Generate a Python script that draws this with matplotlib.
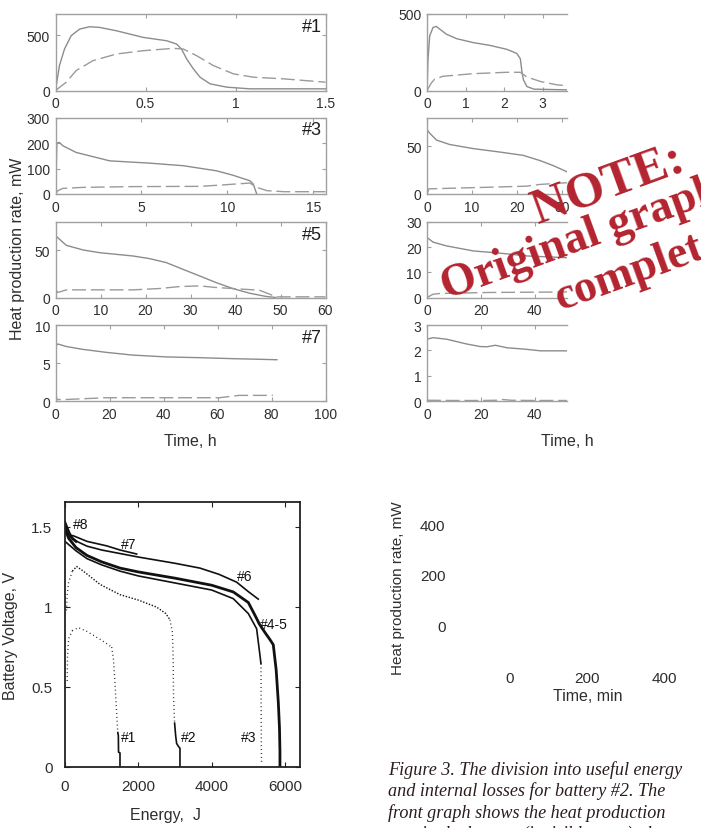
import matplotlib
matplotlib.use("Agg")
import matplotlib.pyplot as plt

# ---------------- data: heat production panels (left column) ----------------
p1_solid_t = [0, 0.022, 0.05, 0.087, 0.134, 0.19, 0.245, 0.338, 0.487, 0.617, 0.673, 0.70, 0.729, 0.766, 0.803, 0.859, 0.952, 1.08, 1.5]
p1_solid_q = [0, 225, 374, 494, 554, 575, 569, 539, 479, 449, 419, 374, 284, 195, 120, 60, 30, 15, 15]
p1_dash_t = [0, 0.06, 0.115, 0.208, 0.338, 0.487, 0.654, 0.71, 0.784, 0.877, 0.989, 1.1, 1.268, 1.5]
p1_dash_q = [0, 75, 180, 269, 329, 359, 380, 374, 314, 225, 150, 120, 105, 75]

p3_solid_t = [0, 0.04, 0.08, 0.23, 0.43, 1.2, 2.56, 3.15, 5.48, 7.42, 9.36, 10.3, 11.3, 11.5, 11.7]
p3_solid_q = [0, 85, 200, 202, 189, 163, 140, 130, 121, 111, 91, 74, 52, 39, 0]
p3_dash_t = [0, 0.14, 0.43, 1.6, 4.5, 8.4, 9.6, 11.3, 11.7, 12.3, 13.3, 15.7]
p3_dash_q = [0, 13, 22, 26, 29, 30, 35, 43, 26, 13, 9, 9]

p5_solid_t = [0.15, 0.5, 2.4, 6.1, 9.8, 17.2, 20.9, 24.6, 28.3, 32, 35.7, 39.4, 43.1, 46.8, 49]
p5_solid_q = [65, 63.4, 55.3, 50.4, 47.5, 44, 41.2, 37, 29.9, 22.9, 15.8, 9.5, 4.6, 1.1, 0]
p5_dash_t = [0, 0.5, 2.4, 17.2, 23.1, 27.6, 32, 35.7, 39.4, 45.3, 47.6, 49, 60]
p5_dash_q = [8.8, 5.3, 8.1, 8.1, 9.5, 11.6, 12.3, 10.6, 9.5, 7.7, 3.5, 0.7, 0.7]

p7_solid_t = [0, 0.86, 4, 10, 18.8, 28.6, 41, 53.3, 65.7, 74.3, 82]
p7_solid_q = [7.17, 7.5, 7.17, 6.8, 6.4, 6.04, 5.8, 5.7, 5.57, 5.5, 5.43]
p7_dash_t = [0, 0.5, 4, 18.8, 41, 60.7, 68, 80.5]
p7_dash_q = [1.5, 0.2, 0.2, 0.43, 0.43, 0.43, 0.74, 0.74]

# ---------------- data: heat production panels (right column) ----------------
r1_solid_t = [0, 0.026, 0.07, 0.157, 0.243, 0.33, 0.504, 0.765, 1.2, 1.63, 2.07, 2.33, 2.42, 2.46, 2.5, 2.59, 2.77, 3.63]
r1_solid_q = [0, 203, 357, 412, 419, 401, 368, 339, 313, 295, 269, 242, 207, 126, 70, 26, 9, 4]
r1_dash_t = [0, 0.11, 0.2, 0.417, 1.2, 2.07, 2.42, 2.59, 2.94, 3.37, 3.63]
r1_dash_q = [0, 48, 75, 93, 110, 119, 119, 88, 59, 37, 31]

r2_solid_t = [0.07, 0.6, 2.1, 5, 10.2, 16.1, 21.3, 25, 28, 31]
r2_solid_q = [67, 63.6, 56.4, 51.8, 47.5, 43.9, 40.4, 35, 29.6, 23.2]
r2_dash_t = [0, 0.44, 2.8, 13.9, 22, 25, 31]
r2_dash_q = [0, 5.4, 5.7, 7.1, 8.2, 10, 11.8]

r3_solid_t = [0.1, 2.25, 7.25, 17.25, 27.25, 37.25, 52]
r3_solid_q = [23.8, 22, 20.5, 18.5, 17.6, 16.5, 15.8]
r3_dash_t = [0, 2.25, 4.75, 23.5, 52]
r3_dash_q = [0, 1.3, 1.6, 2.0, 2.2]

r4_solid_t = [0, 2.25, 7.25, 14.75, 19.75, 22.25, 25.4, 29.75, 36, 42.25, 48.5, 52]
r4_solid_q = [2.44, 2.5, 2.44, 2.25, 2.15, 2.14, 2.2, 2.1, 2.05, 1.98, 1.98, 1.98]
r4_dash_t = [0, 10, 20, 26, 28, 31, 40, 52]
r4_dash_q = [0.03, 0.02, 0.02, 0.03, 0.06, 0.03, 0.02, 0.02]

# ---------------- data: battery voltage vs energy ----------------
b1_dot1_e = [60, 70, 100, 200]
b1_dot1_v = [0.538, 0.705, 0.803, 0.852]
b1_solid_e = [200, 364, 600, 955, 1150, 1273]
b1_solid_v = [0.852, 0.871, 0.847, 0.798, 0.769, 0.749]
b1_dot2_e = [1273, 1320, 1360, 1400, 1440]
b1_dot2_v = [0.749, 0.676, 0.538, 0.372, 0.215]
b1_end_e = [1440, 1455, 1460, 1500, 1500]
b1_end_v = [0.215, 0.196, 0.093, 0.088, 0.0]

b2_dot1_e = [40, 60, 100, 200]
b2_dot1_v = [0.979, 1.077, 1.155, 1.224]
b2_solid_e = [200, 318, 500, 955, 1500, 2000, 2500, 2750, 2863]
b2_solid_v = [1.224, 1.253, 1.224, 1.141, 1.077, 1.043, 0.999, 0.959, 0.920]
b2_dot2_e = [2863, 2930, 2950, 2960, 2990]
b2_dot2_v = [0.920, 0.842, 0.685, 0.441, 0.274]
b2_end_e = [2990, 3018, 3045, 3100, 3136, 3136]
b2_end_v = [0.274, 0.196, 0.147, 0.127, 0.117, 0.0]

b3_solid_e = [0, 100, 300, 600, 1000, 1500, 2000, 3000, 4000, 4590, 5000, 5227, 5318, 5345]
b3_solid_v = [1.410, 1.390, 1.351, 1.302, 1.263, 1.224, 1.194, 1.150, 1.106, 1.052, 0.959, 0.864, 0.698, 0.646]
b3_dot_e = [5345, 5350, 5355, 5360]
b3_dot_v = [0.646, 0.392, 0.147, 0.029]

b45_e = [0, 100, 300, 600, 1000, 1500, 2000, 3000, 4000, 4590, 5000, 5200, 5300, 5450, 5600, 5681, 5760, 5818, 5850, 5863, 5863]
b45_v = [1.488, 1.429, 1.371, 1.322, 1.282, 1.243, 1.219, 1.180, 1.136, 1.094, 1.028, 0.940, 0.894, 0.842, 0.793, 0.764, 0.607, 0.406, 0.245, 0.098, 0.0]

b6_e = [0, 227, 600, 1000, 2000, 3000, 3680, 4200, 4682, 5000, 5272]
b6_v = [1.469, 1.420, 1.380, 1.356, 1.312, 1.273, 1.243, 1.204, 1.155, 1.096, 1.049]

b7_e = [0, 100, 227, 600, 1136, 1500, 1955]
b7_v = [1.469, 1.449, 1.445, 1.410, 1.382, 1.356, 1.331]

b8_e = [0, 50, 120, 200, 300]
b8_v = [1.527, 1.498, 1.459, 1.429, 1.410]

volt_labels = ["#8", "#7", "#6", "#4-5", "#1", "#2", "#3"]
volt_label_e = [436, 1727, 4909, 5700, 1727, 3363, 5000]
volt_label_v = [1.517, 1.393, 1.193, 0.894, 0.186, 0.186, 0.186]

# ---------------- figure ----------------
W, H = 701, 829
plt.rcParams["font.family"] = ["Liberation Sans", "DejaVu Sans"]
fig = plt.figure(figsize=(W / 100, H / 100), dpi=100)


def ax_px(l, t, r, b):
    return fig.add_axes([l / W, 1 - b / H, (r - l) / W, (b - t) / H])


GREY = "#8c8c8c"
SPINE = "#a0a0a0"
TXT = "#2e2e2e"


def heat_panel(ax, st, sq, dt, dq, xlim, ylim, xt, yt, label=None, right=True):
    ax.plot(st, sq, color=GREY, lw=1.0)
    ax.plot(dt, dq, color="#9a9a9a", lw=1.0, dashes=(10, 3.5))
    ax.set_xlim(*xlim)
    ax.set_ylim(*ylim)
    ax.set_xticks(xt)
    ax.set_yticks(yt)
    ax.set_xticklabels([f"{v:g}" for v in xt])
    ax.set_yticklabels([f"{v:g}" for v in yt])
    for s in ax.spines.values():
        s.set_color(SPINE)
        s.set_linewidth(1.0)
    if not right:
        ax.spines["right"].set_visible(False)
    ax.tick_params(direction="in", top=True, right=right, length=3, color=SPINE,
                   labelsize=10, labelcolor=TXT, pad=4)
    if label:
        ax.text(0.985, 0.95, label, transform=ax.transAxes, ha="right", va="top",
                fontsize=13, color="#1e1e1e")


rows = [(15, 91.5), (118.5, 195), (223, 298.5), (326, 402)]
axL = [ax_px(55.5, t, 325.5, b) for t, b in rows]
heat_panel(axL[0], p1_solid_t, p1_solid_q, p1_dash_t, p1_dash_q, (0, 1.5), (0, 690),
           [0, 0.5, 1, 1.5], [0, 500], "#1")
heat_panel(axL[1], p3_solid_t, p3_solid_q, p3_dash_t, p3_dash_q, (0, 15.7), (0, 300),
           [0, 5, 10, 15], [0, 100, 200, 300], "#3")
heat_panel(axL[2], p5_solid_t, p5_solid_q, p5_dash_t, p5_dash_q, (0, 60), (0, 80),
           [0, 10, 20, 30, 40, 50, 60], [0, 50], "#5")
heat_panel(axL[3], p7_solid_t, p7_solid_q, p7_dash_t, p7_dash_q, (0, 100), (0, 10),
           [0, 20, 40, 60, 80, 100], [0, 5, 10], "#7")

axR = [ax_px(427, t, 567, b) for t, b in rows]
heat_panel(axR[0], r1_solid_t, r1_solid_q, r1_dash_t, r1_dash_q, (0, 3.63), (0, 500),
           [0, 1, 2, 3], [0, 500], right=False)
heat_panel(axR[1], r2_solid_t, r2_solid_q, r2_dash_t, r2_dash_q, (0, 31), (0, 80),
           [0, 10, 20, 30], [0, 50], right=False)
heat_panel(axR[2], r3_solid_t, r3_solid_q, r3_dash_t, r3_dash_q, (0, 52), (0, 30),
           [0, 20, 40], [0, 10, 20, 30], right=False)
heat_panel(axR[3], r4_solid_t, r4_solid_q, r4_dash_t, r4_dash_q, (0, 52), (0, 3),
           [0, 20, 40], [0, 1, 2, 3], right=False)

fig.text(18 / W, 1 - 249 / H, "Heat production rate, mW", rotation=90, ha="center",
         va="center", fontsize=11.5, color=TXT)
fig.text(190 / W, 1 - 441 / H, "Time, h", ha="center", va="center", fontsize=11.5, color=TXT)
fig.text(567 / W, 1 - 441 / H, "Time, h", ha="center", va="center", fontsize=11.5, color=TXT)

# ---------------- battery voltage plot ----------------
axV = ax_px(65, 503, 300, 768)
K = "#111111"
dot = dict(color=K, lw=1.0, linestyle=(0, (0.6, 2.2)))
sol = dict(color=K, lw=1.2)
axV.plot(b1_dot1_e, b1_dot1_v, **dot)
axV.plot(b1_solid_e, b1_solid_v, **dot)
axV.plot(b1_dot2_e, b1_dot2_v, **dot)
axV.plot(b1_end_e, b1_end_v, **sol)
axV.plot(b2_dot1_e, b2_dot1_v, **dot)
axV.plot(b2_solid_e, b2_solid_v, color=K, lw=1.0, linestyle=(0, (1.0, 1.2)))
axV.plot(b2_dot2_e, b2_dot2_v, **dot)
axV.plot(b2_end_e, b2_end_v, **sol)
axV.plot(b3_solid_e, b3_solid_v, **sol)
axV.plot(b3_dot_e, b3_dot_v, **dot)
axV.plot(b45_e, b45_v, color=K, lw=2.0)
axV.plot(b6_e, b6_v, **sol)
axV.plot(b7_e, b7_v, **sol)
axV.plot(b8_e, b8_v, color=K, lw=2.0)
for lab, e, v in zip(volt_labels, volt_label_e, volt_label_v):
    axV.text(e, v, lab, ha="center", va="center", fontsize=10, color=K)
axV.set_xlim(0, 6410)
axV.set_ylim(0, 1.656)
axV.set_xticks([0, 2000, 4000, 6000])
axV.set_xticklabels(["0", "2000", "4000", "6000"])
axV.set_yticks([0, 0.5, 1, 1.5])
axV.set_yticklabels(["0", "0.5", "1", "1.5"])
for s in axV.spines.values():
    s.set_color("#222222")
    s.set_linewidth(1.3)
axV.tick_params(direction="in", top=True, right=True, length=3.5, color="#222222",
                labelsize=11, labelcolor=TXT, pad=9)
axV.set_xlabel("Energy,  J", fontsize=11.5, color=TXT)
axV.xaxis.set_label_coords((165 - 65) / 235, -(808 - 768) / 265)
axV.set_ylabel("Battery Voltage, V", fontsize=11.5, color=TXT)
axV.yaxis.set_label_coords(-(65 - 18) / 235, 0.5)

# ---------------- bottom-right phantom axes ----------------
axB = ax_px(448.4, 520, 670, 669)
axB.set_xlim(-160, 415)
axB.set_ylim(-170, 420)
axB.set_xticks([0, 200, 400])
axB.set_xticklabels(["0", "200", "400"])
axB.set_yticks([0, 200, 400])
axB.set_yticklabels(["0", "200", "400"])
for s in axB.spines.values():
    s.set_visible(False)
axB.tick_params(length=0, labelsize=11, labelcolor=TXT, pad=2)
axB.set_xlabel("Time, min", fontsize=11.5, color=TXT)
axB.xaxis.set_label_coords((588 - 448.4) / (670 - 448.4), -(689 - 669) / (669 - 520))
axB.set_ylabel("Heat production rate, mW", fontsize=11, color=TXT)
axB.yaxis.set_label_coords(-(448.4 - 405) / (670 - 448.4), (669 - 588) / (669 - 520))
axB.patch.set_alpha(0)

# ---------------- caption ----------------
cap = ["Figure 3. The division into useful energy",
       "and internal losses for battery #2. The",
       "front graph shows the heat production",
       "rate in the battery (invisible area), the"]
for i, line in enumerate(cap):
    fig.text(388 / W, 1 - (775 + 21.3 * i) / H, line, family="Liberation Serif",
             style="italic", fontsize=13.1, color="#2a1c1c", va="baseline", ha="left")

# ---------------- stamp ----------------
RED = "#b3242f"
stamp = [("NOTE:", 538, 224, 36), ("Original graph", 447, 300, 33), ("complete", 560, 311, 33)]
for txt, x, y, fs in stamp:
    fig.text(x / W, 1 - y / H, txt, rotation=20, rotation_mode="anchor", ha="left",
             va="baseline", fontsize=fs, family="Liberation Serif", weight="bold",
             color=RED, zorder=10)

fig.savefig("out.png", dpi=100)
